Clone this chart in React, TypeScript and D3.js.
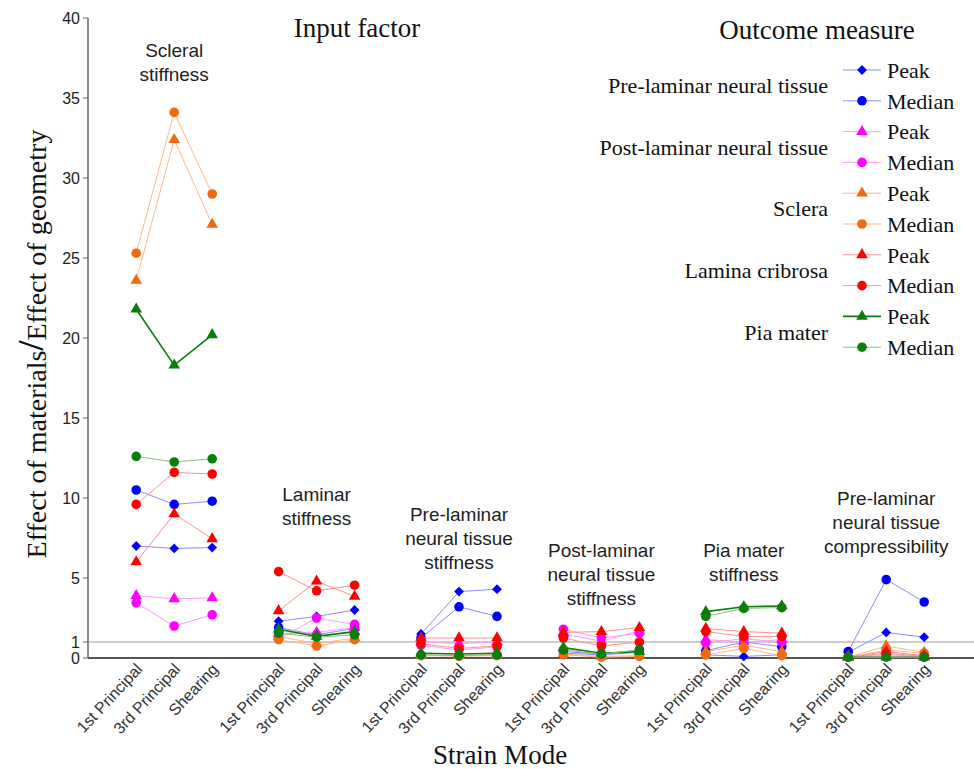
import React from 'react';
import * as d3 from 'd3';

// input factors (groups) and strain modes
const groups = [
  'Scleral stiffness',
  'Laminar stiffness',
  'Pre-laminar neural tissue stiffness',
  'Post-laminar neural tissue stiffness',
  'Pia mater stiffness',
  'Pre-laminar neural tissue compressibility',
];
const groupLabels = [
  ['Scleral', 'stiffness'],
  ['Laminar', 'stiffness'],
  ['Pre-laminar', 'neural tissue', 'stiffness'],
  ['Post-laminar', 'neural tissue', 'stiffness'],
  ['Pia mater', 'stiffness'],
  ['Pre-laminar', 'neural tissue', 'compressibility'],
];
const modes = ['1st Principal', '3rd Principal', 'Shearing'];
const yTicks = [0, 1, 5, 10, 15, 20, 25, 30, 35, 40];

// values per group, [1st, 3rd, shearing]
const preLamPeak = [[7.0, 6.85, 6.9], [2.3, 2.6, 3.0], [1.5, 4.15, 4.3], [0.3, 0.2, 0.35], [0.2, 0.1, 0.2], [0.35, 1.6, 1.3]];
const preLamMedian = [[10.5, 9.6, 9.8], [1.9, 1.45, 1.85], [1.25, 3.2, 2.6], [0.4, 0.25, 0.5], [0.45, 1.0, 0.7], [0.4, 4.9, 3.5]];
const postLamPeak = [[3.9, 3.7, 3.75], [1.5, 1.6, 1.9], [1.0, 0.9, 1.0], [1.5, 1.05, 1.7], [1.15, 1.0, 1.15], [0.1, 0.2, 0.1]];
const postLamMedian = [[3.45, 2.0, 2.7], [1.2, 2.5, 2.1], [0.8, 0.5, 0.7], [1.8, 1.25, 1.55], [0.95, 1.2, 1.0], [0.05, 0.15, 0.05]];
const scleraPeak = [[23.6, 32.4, 27.1], [1.35, 0.9, 1.25], [0.2, 0.15, 0.2], [0.25, 0.1, 0.15], [0.4, 0.8, 0.4], [0.05, 0.75, 0.35]];
const scleraMedian = [[25.3, 34.1, 29.0], [1.15, 0.75, 1.15], [0.15, 0.1, 0.15], [0.2, 0.05, 0.1], [0.2, 0.6, 0.15], [0.05, 0.5, 0.3]];
const laminaPeak = [[6.0, 9.0, 7.45], [2.95, 4.8, 3.85], [1.25, 1.25, 1.25], [1.6, 1.65, 1.9], [1.85, 1.65, 1.55], [0.05, 0.4, 0.15]];
const laminaMedian = [[9.6, 11.6, 11.5], [5.4, 4.2, 4.55], [0.9, 0.6, 0.75], [1.25, 0.75, 1.0], [1.65, 1.35, 1.35], [0.05, 0.3, 0.1]];
const piaPeak = [[21.8, 18.3, 20.2], [1.8, 1.35, 1.65], [0.3, 0.25, 0.3], [0.65, 0.3, 0.4], [2.9, 3.2, 3.25], [0.05, 0.05, 0.05]];
const piaMedian = [[12.6, 12.25, 12.45], [1.55, 1.3, 1.45], [0.2, 0.15, 0.2], [0.5, 0.25, 0.5], [2.6, 3.1, 3.15], [0.05, 0.05, 0.05]];

const tissues = ['Pre-laminar neural tissue', 'Post-laminar neural tissue', 'Sclera', 'Lamina cribrosa', 'Pia mater'];

// diamond = square turned 45 degrees
const diamond = {
  draw(ctx: any, size: number) {
    const r = Math.sqrt(size / 2);
    ctx.moveTo(0, -r); ctx.lineTo(r, 0); ctx.lineTo(0, r); ctx.lineTo(-r, 0); ctx.closePath();
  },
};

const series = [
  { tissue: 0, kind: 'Peak', values: preLamPeak, color: '#0000ff', line: '#8c8cff', lw: 1, sym: diamond, size: 48 },
  { tissue: 0, kind: 'Median', values: preLamMedian, color: '#0000ff', line: '#8c8cff', lw: 1, sym: d3.symbolCircle, size: 72 },
  { tissue: 1, kind: 'Peak', values: postLamPeak, color: '#ff00ff', line: '#ff99ff', lw: 1, sym: d3.symbolTriangle, size: 58 },
  { tissue: 1, kind: 'Median', values: postLamMedian, color: '#ff00ff', line: '#ff99ff', lw: 1, sym: d3.symbolCircle, size: 72 },
  { tissue: 2, kind: 'Peak', values: scleraPeak, color: '#f26a10', line: '#ffb888', lw: 1, sym: d3.symbolTriangle, size: 58 },
  { tissue: 2, kind: 'Median', values: scleraMedian, color: '#f26a10', line: '#ffb888', lw: 1, sym: d3.symbolCircle, size: 72 },
  { tissue: 3, kind: 'Peak', values: laminaPeak, color: '#ff0000', line: '#ff9090', lw: 1, sym: d3.symbolTriangle, size: 58 },
  { tissue: 3, kind: 'Median', values: laminaMedian, color: '#ff0000', line: '#ff9090', lw: 1, sym: d3.symbolCircle, size: 72 },
  { tissue: 4, kind: 'Peak', values: piaPeak, color: '#0a7d0a', line: '#0a7d0a', lw: 1.6, sym: d3.symbolTriangle, size: 58 },
  { tissue: 4, kind: 'Median', values: piaMedian, color: '#0a7d0a', line: '#86c086', lw: 1, sym: d3.symbolCircle, size: 72 },
];

export default function App() {
  const W = 974, H = 769;
  const left = 88, bottom = 658, top = 18;

  const y = d3.scaleLinear().domain([0, 40]).range([bottom, top]);
  const xg = d3.scaleBand().domain(groups).range([103, 957.4]);
  const xm = d3.scalePoint().domain(modes).range([0, xg.bandwidth()]).padding(0.874);
  const xPos = (g: number, m: number) => (xg(groups[g]) as number) + (xm(modes[m]) as number);

  const sans = "'Liberation Sans', Arial, sans-serif";
  const serif = "'Liberation Serif', 'Times New Roman', serif";

  const legendY0 = 70, legendStep = 30.8;
  const labelBase = [57, 501, 521, 557, 557, 505];

  return (
    <div style={{ position: 'absolute', left: 0, top: 0 }}>
      <style>{'body{margin:0}'}</style>
      <svg width={W} height={H} style={{ display: 'block', background: '#fff' }}>
        {/* axes */}
        <line x1={left} x2={W} y1={y(1)} y2={y(1)} stroke="#9a9a9a" strokeWidth={1} />
        <line x1={left} x2={W} y1={bottom} y2={bottom} stroke="#555" strokeWidth={2} />
        <line x1={left} x2={left} y1={top} y2={bottom} stroke="#666" strokeWidth={1.5} />
        {yTicks.map(t => (
          <g key={t} transform={`translate(${left},${y(t)})`}>
            <line x1={-5} x2={0} stroke="#666" />
            <text x={-8} dy="0.35em" textAnchor="end" fontFamily={sans} fontSize={16} fill="#222">{t}</text>
          </g>
        ))}

        {/* x tick labels */}
        {groups.map((g, gi) => modes.map((m, mi) => (
          <text key={g + m} transform={`translate(${xPos(gi, mi) + 7},${bottom + 12}) rotate(-47)`}
            textAnchor="end" fontFamily={sans} fontSize={16} fill="#333">{m}</text>
        )))}

        {/* group labels */}
        {groupLabels.map((lines, gi) => {
          const cx = (xg(groups[gi]) as number) + xg.bandwidth() / 2;
          return (
            <text key={gi} x={cx} y={labelBase[gi]} textAnchor="middle" fontFamily={sans} fontSize={19} fill="#222">
              {lines.map((l, i) => <tspan key={i} x={cx} dy={i === 0 ? 0 : 24}>{l}</tspan>)}
            </text>
          );
        })}

        {/* series */}
        {series.map((s, si) => (
          <g key={si}>
            {s.values.map((vals, gi) => (
              <path key={gi}
                d={d3.line<number>().x((_, i) => xPos(gi, i)).y(v => y(v))(vals) as string}
                fill="none" stroke={s.line} strokeWidth={s.lw} />
            ))}
            {s.values.map((vals, gi) => vals.map((v, mi) => (
              <path key={`${gi}-${mi}`} transform={`translate(${xPos(gi, mi)},${y(v)})`}
                d={d3.symbol().type(s.sym as any).size(s.size)() as string} fill={s.color} />
            )))}
          </g>
        ))}

        {/* titles */}
        <text x={357} y={37} textAnchor="middle" fontFamily={serif} fontSize={27} fill="#111">Input factor</text>
        <text x={817} y={39} textAnchor="middle" fontFamily={serif} fontSize={27} fill="#111">Outcome measure</text>
        <text x={500} y={764} textAnchor="middle" fontFamily={serif} fontSize={27} fill="#111">Strain Mode</text>
        <text transform="translate(46,344) rotate(-90)" textAnchor="middle" fontFamily={serif} fontSize={28} fill="#111">
          Effect of materials<tspan fontSize={36} fontWeight="bold" dy={-3}>/</tspan><tspan dy={3}>Effect of geometry</tspan>
        </text>

        {/* legend */}
        {tissues.map((t, ti) => (
          <text key={t} x={828} y={legendY0 + legendStep * (2 * ti + 0.5)} dy="0.35em" textAnchor="end"
            fontFamily={serif} fontSize={22} fill="#111">{t}</text>
        ))}
        {series.map((s, si) => {
          const ly = legendY0 + legendStep * si;
          return (
            <g key={si} transform={`translate(0,${ly})`}>
              <line x1={843} x2={881} stroke={s.line} strokeWidth={s.lw} />
              <path transform="translate(862,0)" d={d3.symbol().type(s.sym as any).size(s.size)() as string} fill={s.color} />
              <text x={887} dy="0.35em" fontFamily={serif} fontSize={22} fill="#111">{s.kind}</text>
            </g>
          );
        })}
      </svg>
    </div>
  );
}
